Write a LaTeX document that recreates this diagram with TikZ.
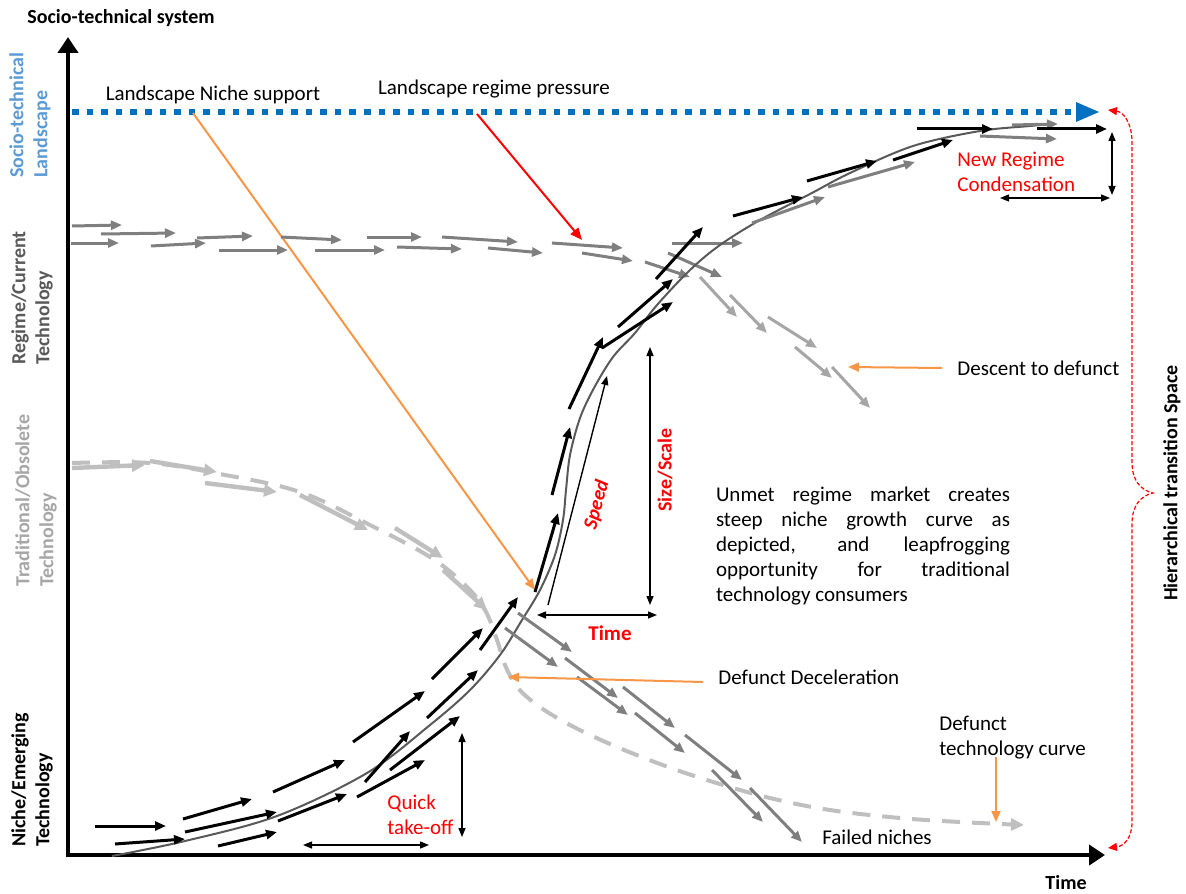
\documentclass[tikz,border=0pt]{standalone}
\usepackage{fontspec}
\setmainfont{Carlito}
\usetikzlibrary{arrows.meta}

\definecolor{landblue}{HTML}{0070C0}
\definecolor{labelblue}{HTML}{5B9BD5}
\definecolor{regimegray}{HTML}{7F7F7F}
\definecolor{fadegray}{HTML}{A6A6A6}
\definecolor{tradgray}{HTML}{BFBFBF}
\definecolor{curvegray}{HTML}{595959}
\definecolor{darklabel}{HTML}{595959}
\definecolor{pointer}{HTML}{F79646}

\newcommand\bodyfont{\fontsize{10.5}{12.4}\selectfont}
\newcommand\labfont{\fontsize{10}{12}\selectfont\bfseries}

\tikzset{
  flowarrow/.style={line width=1.5pt, -{Triangle[length=5.5pt,width=4.5pt]}},
  regimearrow/.style={flowarrow, draw=regimegray},
  fadearrow/.style={flowarrow, draw=fadegray},
  nichearrow/.style={flowarrow, draw=black},
  tradarrow/.style={line width=2.2pt, draw=tradgray, -{Triangle[length=6.5pt,width=6pt]}},
  measure/.style={line width=0.7pt, {Triangle[length=4.5pt,width=3.5pt]}-{Triangle[length=4.5pt,width=3.5pt]}},
  pointerarrow/.style={line width=1pt, draw=pointer, -{Triangle[length=5.5pt,width=4.5pt]}},
  axislabel/.style={font=\labfont, rotate=90, anchor=west, align=left, inner sep=0pt},
  txt/.style={font=\bodyfont, inner sep=0pt},
  redtxt/.style={font=\bodyfont, text=red, inner sep=0pt},
}

\begin{document}
\begin{tikzpicture}[x=0.5pt, y=-0.5pt]
\useasboundingbox (0,0) rectangle (1186,893);

% ---- axes ----
\coordinate (origin) at (68,855);
\coordinate (ytop) at (68,37);
\coordinate (xend) at (1105,855);
\draw[line width=2.2pt, -{Triangle[length=8pt,width=10pt]}] (68,857) -- (ytop);
\draw[line width=2.2pt, -{Triangle[length=8pt,width=10pt]}] (66,855) -- (xend);
\node[font=\labfont, anchor=west, inner sep=0pt] (systemlabel) at (27,18) {Socio-technical system};
\node[font=\labfont, inner sep=0pt] (timelabel) at (1066,883) {Time};

% ---- level labels on the vertical axis ----
\node[axislabel, text=labelblue] (lvlland) at (30,178) {Socio-technical\\Landscape};
\node[axislabel, text=darklabel] (lvlregime) at (32,365) {Regime/Current\\Technology};
\node[axislabel, text=fadegray] (lvltrad) at (36,587) {Traditional/Obsolete\\Technology};
\node[axislabel, text=black] (lvlniche) at (32,847) {Niche/Emerging\\Technology};

% ---- landscape level ----
\coordinate (landstart) at (72,112);
\coordinate (landend) at (1100,112);
\draw[landblue, line width=3pt, dash pattern=on 3.3pt off 4pt,
      -{Triangle[length=12pt,width=9pt]}] (landstart) -- (landend);
\node[txt] (nichesupport) at (213,95) {Landscape Niche support};
\node[txt] (regimepressure) at (494,89) {Landscape regime pressure};
\coordinate (supportfoot) at (193,113);
\coordinate (supporttip) at (535,590);
\draw[pointerarrow] (supportfoot) -- (supporttip);
\coordinate (pressurefoot) at (477,114);
\coordinate (pressuretip) at (582,240);
\draw[line width=1pt, red, -{Triangle[length=6pt,width=5pt]}] (pressurefoot) -- (pressuretip);

% ---- traditional technology: dashed decline curve ----
\draw[tradgray, line width=2pt, dash pattern=on 9pt off 6pt, -{Triangle[length=6.5pt,width=6pt]}]
  plot[smooth, tension=0.6] coordinates {(72,463) (150,463) (220,474) (300,492) (370,525) (430,557)
  (465,585) (485,610) (497,640) (505,665) (518,688) (540,707) (570,725) (610,744) (660,764)
  (710,781) (770,798) (830,810) (900,818) (960,822) (1024,825)};
\foreach \a/\b/\c/\d in {72/468/145/465, 150/461/217/472, 205/483/277/492, 300/495/368/530,
  395/528/443/558, 443/570/487/610}
  \draw[tradarrow] (\a,\b) -- (\c,\d);

% ---- regime level ----
\foreach \a/\b/\c/\d in {72/226/122/225, 101/234/176/233, 71/243/119/243, 151/246/206/243,
  197/238/253/236, 219/250/288/250, 281/237/342/240, 315/250/385/250, 367/237/422/237,
  397/247/462/249, 442/237/518/242, 488/248/543/253, 552/243/623/248, 582/253/633/261,
  645/262/690/277, 672/243/743/243, 668/253/722/277}
  \draw[regimearrow] (\a,\b) -- (\c,\d);
\foreach \a/\b/\c/\d in {700/277/737/317, 730/295/767/333, 768/317/817/348,
  795/347/832/378, 832/367/870/408}
  \draw[fadearrow] (\a,\b) -- (\c,\d);

% ---- niche S-curve ----
\draw[curvegray, line width=1pt]
  plot[smooth, tension=0.55] coordinates {(112,856) (185,841) (277,816) (367,773) (430,725)
  (470,690) (500,655) (522,620) (540,590) (555,555) (563,520) (566,490) (570,455) (580,418)
  (594,388) (613,357) (635,333) (657,305) (690,270) (720,245) (760,220) (810,194) (850,173)
  (913,146) (980,131) (1030,126) (1050,124)};
\draw[regimearrow] (1012,125) -- (1058,124);

\foreach \a/\b/\c/\d in {95/826/166/826, 115/844/185/839, 183/819/252/799, 185/832/277/812,
  218/846/277/832, 273/792/345/760, 278/821/347/794, 353/742/425/691, 357/797/425/760,
  365/782/410/731, 390/770/460/716, 427/718/478/670, 432/679/483/628, 480/650/518/597,
  535/592/558/513, 552/495/570/427, 569/409/603/337, 602/348/673/302, 618/327/673/279,
  656/279/703/227, 733/216/803/197, 807/181/877/161, 893/160/953/140, 917/129/993/129,
  1037/129/1107/129}
  \draw[nichearrow] (\a,\b) -- (\c,\d);
\foreach \a/\b/\c/\d in {752/223/825/197, 828/187/915/162, 980/136/1057/139}
  \draw[regimearrow] (\a,\b) -- (\c,\d);

% ---- failed niches ----
\foreach \a/\b/\c/\d in {518/613/572/652, 505/628/558/667, 565/658/618/698, 577/677/628/715,
  623/687/675/728, 635/713/685/753, 685/735/742/780, 712/770/763/822, 750/788/802/842}
  \draw[regimearrow] (\a,\b) -- (\c,\d);
\node[txt] (failed) at (877,837) {Failed niches};

% ---- measurements ----
\coordinate (speedfoot) at (548,605);
\coordinate (speedtip) at (607,376);
\draw[line width=0.7pt, -{Triangle[length=4.5pt,width=3.5pt]}] (speedfoot) -- (speedtip);
\node[font=\fontsize{10}{12}\selectfont\bfseries\itshape, text=red, rotate=75, inner sep=0pt]
  (speedlabel) at (597,505) {Speed};
\coordinate (sizetop) at (650,347);
\coordinate (sizebottom) at (650,605);
\draw[measure] (sizetop) -- (sizebottom);
\node[font=\labfont, text=red, rotate=90, inner sep=0pt] (sizelabel) at (665,470) {Size/Scale};
\coordinate (timeleft) at (537,615);
\coordinate (timeright) at (657,615);
\draw[measure] (timeleft) -- (timeright);
\node[font=\fontsize{10.5}{12}\selectfont\bfseries, text=red, inner sep=0pt] (timered) at (610,633) {Time};

\coordinate (takeoffleft) at (303,845);
\coordinate (takeoffright) at (429,845);
\draw[measure] (takeoffleft) -- (takeoffright);
\coordinate (takeofftop) at (462,733);
\coordinate (takeoffbottom) at (462,837);
\draw[measure] (takeofftop) -- (takeoffbottom);
\node[redtxt, anchor=west, align=left, font=\fontsize{10.5}{12.5}\selectfont] (quick) at (387,815) {Quick\\take-off};

\coordinate (condtop) at (1112,132);
\coordinate (condbottom) at (1112,195);
\draw[measure] (condtop) -- (condbottom);
\coordinate (condleft) at (1000,198);
\coordinate (condright) at (1110,198);
\draw[measure] (condleft) -- (condright);
\node[redtxt, anchor=west, align=left, font=\fontsize{10.5}{12.5}\selectfont] (condensation) at (957,172) {New Regime\\Condensation};

% ---- annotations ----
\node[txt, anchor=west] (descent) at (957,368) {Descent to defunct};
\coordinate (descenttip) at (848,367);
\draw[pointerarrow] (descent.west) ++(-15,0) -- (descenttip);

\node[txt, anchor=west] (deceleration) at (718,677) {Defunct Deceleration};
\coordinate (deceltail) at (703,682);
\coordinate (deceltip) at (508,677);
\draw[pointerarrow] (deceltail) -- (deceltip);

\node[txt, anchor=west, align=left, font=\fontsize{10.5}{12.5}\selectfont] (defunctcurve) at (939,738) {Defunct\\technology curve};
\coordinate (curvetail) at (996,757);
\coordinate (curvetip) at (996,822);
\draw[pointerarrow] (curvetail) -- (curvetip);

\node[txt, align=left] (unmet) at (863,546) {%
  \makebox[147pt][s]{Unmet regime market creates}\\
  \makebox[147pt][s]{steep niche growth curve as}\\
  \makebox[147pt][s]{depicted, and leapfrogging}\\
  \makebox[147pt][s]{opportunity for traditional}\\
  \makebox[147pt][l]{technology consumers}};

% ---- hierarchical transition brace ----
\coordinate (bracetop) at (1108,110);
\coordinate (bracebottom) at (1108,848);
\coordinate (bracetip) at (1153,493);
\draw[red, line width=0.6pt, dash pattern=on 2pt off 1pt,
      {Triangle[length=4.5pt,width=4pt]}-{Triangle[length=4.5pt,width=4pt]}]
  (bracetop) .. controls (1124,112) and (1132,124) .. (1132,142)
  -- (1132,462) .. controls (1132,480) and (1140,490) .. (bracetip)
  .. controls (1140,496) and (1132,506) .. (1132,524)
  -- (1132,822) .. controls (1132,838) and (1124,846) .. (bracebottom);
\node[font=\labfont, rotate=90, inner sep=0pt] (hierarchy) at (1172,483) {Hierarchical transition Space};

\end{tikzpicture}
\end{document}
